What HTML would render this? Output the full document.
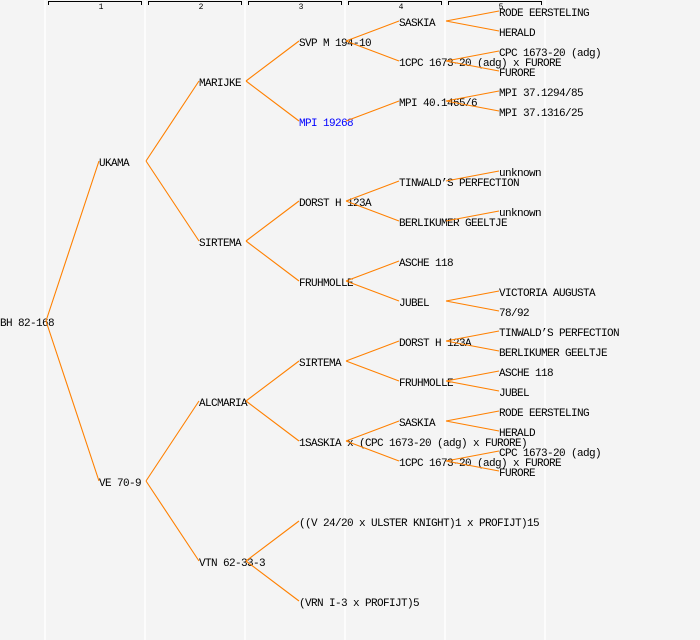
<!DOCTYPE html>
<html><head><style>
html,body{margin:0;padding:0;background:#f4f4f4;}
svg{display:block}
text{font-family:"Liberation Mono",monospace;font-size:11px;letter-spacing:-0.6px;fill:#000}
.h{font-size:8px;letter-spacing:0;text-anchor:middle}
</style></head><body>
<svg width="700" height="640" xmlns="http://www.w3.org/2000/svg">
<rect width="700" height="640" fill="#f4f4f4"/>
<g stroke="#fff" stroke-width="1.5">
<line x1="45" y1="0" x2="45" y2="640"/><line x1="145" y1="0" x2="145" y2="640"/><line x1="245" y1="0" x2="245" y2="640"/><line x1="345" y1="0" x2="345" y2="640"/><line x1="445" y1="0" x2="445" y2="640"/><line x1="545" y1="0" x2="545" y2="640"/>
</g>
<g stroke="#000" fill="none" stroke-width="1">
<path d="M48.5 5V1.5H141.5V5"/><path d="M148.5 5V1.5H241.5V5"/><path d="M248.5 5V1.5H341.5V5"/><path d="M348.5 5V1.5H441.5V5"/><path d="M448.5 5V1.5H541.5V5"/>
</g>
<text class="h" x="101" y="9">1</text><text class="h" x="201" y="9">2</text><text class="h" x="301" y="9">3</text><text class="h" x="401" y="9">4</text><text class="h" x="501" y="9">5</text>
<g>
<text x="0" y="326">BH 82-168</text>
<text x="99" y="166">UKAMA</text><text x="99" y="486">VE 70-9</text>
<text x="199" y="86">MARIJKE</text><text x="199" y="246">SIRTEMA</text><text x="199" y="406">ALCMARIA</text><text x="199" y="566">VTN 62-33-3</text>
<text x="299" y="46">SVP M 194-10</text><text x="299" y="126" style="fill:#0000ff">MPI 19268</text><text x="299" y="206">DORST H 123A</text><text x="299" y="286">FRUHMOLLE</text><text x="299" y="366">SIRTEMA</text><text x="299" y="446">1SASKIA x (CPC 1673-20 (adg) x FURORE)</text><text x="299" y="526">((V 24/20 x ULSTER KNIGHT)1 x PROFIJT)15</text><text x="299" y="606">(VRN I-3 x PROFIJT)5</text>
<text x="399" y="26">SASKIA</text><text x="399" y="66">1CPC 1673-20 (adg) x FURORE</text><text x="399" y="106">MPI 40.1465/6</text><text x="399" y="186">TINWALD’S PERFECTION</text><text x="399" y="226">BERLIKUMER GEELTJE</text><text x="399" y="266">ASCHE 118</text><text x="399" y="306">JUBEL</text><text x="399" y="346">DORST H 123A</text><text x="399" y="386">FRUHMOLLE</text><text x="399" y="426">SASKIA</text><text x="399" y="466">1CPC 1673-20 (adg) x FURORE</text>
<text x="499" y="16">RODE EERSTELING</text><text x="499" y="36">HERALD</text><text x="499" y="56">CPC 1673-20 (adg)</text><text x="499" y="76">FURORE</text><text x="499" y="96">MPI 37.1294/85</text><text x="499" y="116">MPI 37.1316/25</text><text x="499" y="176">unknown</text><text x="499" y="216">unknown</text><text x="499" y="296">VICTORIA AUGUSTA</text><text x="499" y="316">78/92</text><text x="499" y="336">TINWALD’S PERFECTION</text><text x="499" y="356">BERLIKUMER GEELTJE</text><text x="499" y="376">ASCHE 118</text><text x="499" y="396">JUBEL</text><text x="499" y="416">RODE EERSTELING</text><text x="499" y="436">HERALD</text><text x="499" y="456">CPC 1673-20 (adg)</text><text x="499" y="476">FURORE</text>
</g>
<g stroke="#ff8000" stroke-width="1.1" fill="none">
<path d="M46 321L99 161M46 321L99 481"/>
<path d="M146 161L199 81M146 161L199 241M146 481L199 401M146 481L199 561"/>
<path d="M246 81L299 41M246 81L299 121M246 241L299 201M246 241L299 281M246 401L299 361M246 401L299 441M246 561L299 521M246 561L299 601"/>
<path d="M346 41L399 21M346 41L399 61M346 121L399 101M346 201L399 181M346 201L399 221M346 281L399 261M346 281L399 301M346 361L399 341M346 361L399 381M346 441L399 421M346 441L399 461"/>
<path d="M446 21L499 11M446 21L499 31M446 61L499 51M446 61L499 71M446 101L499 91M446 101L499 111M446 181L499 171M446 221L499 211M446 301L499 291M446 301L499 311M446 341L499 331M446 341L499 351M446 381L499 371M446 381L499 391M446 421L499 411M446 421L499 431M446 461L499 451M446 461L499 471"/>
</g>
</svg>
</body></html>
